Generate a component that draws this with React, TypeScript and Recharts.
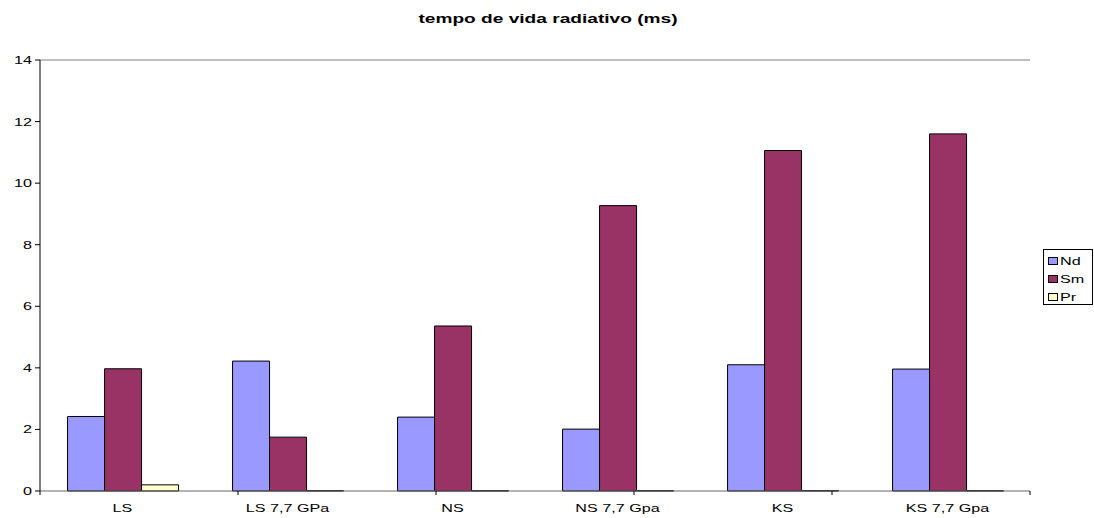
import React from 'react';
import { BarChart, Bar, XAxis, YAxis, ReferenceLine } from 'recharts';

const categories = ['LS', 'LS 7,7 GPa', 'NS', 'NS 7,7 Gpa', 'KS', 'KS 7,7 Gpa'];
const nd = [2.42, 4.22, 2.4, 2.01, 4.1, 3.96];
const sm = [3.97, 1.75, 5.36, 9.27, 11.06, 11.6];
const pr = [0.2, 0.01, 0.01, 0.01, 0.01, 0.01];
const yTicks = [0, 2, 4, 6, 8, 10, 12, 14];
const bandTicks = [0, 1, 2, 3, 4, 5, 6];

const series = [
    { key: 'Nd', color: '#9999FF' },
    { key: 'Sm', color: '#993366' },
    { key: 'Pr', color: '#FFFFCC' },
];

const data = categories.map((name, i) => ({ name, Nd: nd[i], Sm: sm[i], Pr: pr[i] }));

const font = '"Liberation Sans", Arial, sans-serif';
// the original text is stretched sideways
const STRETCH = 1.47;

const XTick = (props: any) => {
    const { x, y, payload } = props;
    return (
        <text
            x={0}
            y={0}
            transform={`translate(${x},${y + 12}) scale(${STRETCH},1)`}
            textAnchor="middle"
            fontSize={11}
            fontFamily={font}
            fill="#000"
        >
            {payload.value}
        </text>
    );
};

const YTick = (props: any) => {
    const { x, y, payload } = props;
    return (
        <text
            x={0}
            y={0}
            transform={`translate(${x},${y + 4}) scale(${STRETCH},1)`}
            textAnchor="end"
            fontSize={11}
            fontFamily={font}
            fill="#000"
        >
            {payload.value}
        </text>
    );
};

const Legend = () => (
    <div
        style={{
            position: 'absolute',
            left: 1043,
            top: 249,
            width: 50,
            height: 56,
            border: '1px solid #000',
            boxSizing: 'border-box',
            padding: '2px 0 0 4px',
            fontFamily: font,
            fontSize: 11,
            lineHeight: '18px',
        }}
    >
        {series.map((s) => (
            <div key={s.key} style={{ display: 'flex', alignItems: 'center' }}>
                <span
                    style={{
                        display: 'inline-block',
                        width: 8,
                        height: 6,
                        background: s.color,
                        border: '1px solid #000',
                        marginRight: 2,
                    }}
                />
                <span style={{ display: 'inline-block', transform: `scaleX(${STRETCH})`, transformOrigin: 'left' }}>
                    {s.key}
                </span>
            </div>
        ))}
    </div>
);

const App = () => {
    return (
        <div style={{ position: 'absolute', left: 0, top: 0, width: 1094, height: 518, background: '#fff' }}>
            <div
                style={{
                    position: 'absolute',
                    left: 0,
                    width: 1096,
                    top: 11,
                    textAlign: 'center',
                    fontFamily: font,
                    fontWeight: 'bold',
                    fontSize: 13,
                    transform: `scaleX(${STRETCH})`,
                    transformOrigin: '548px 0',
                }}
            >
                tempo de vida radiativo (ms)
            </div>
            <BarChart
                width={1094}
                height={518}
                data={data}
                margin={{ top: 60, right: 64, bottom: 7, left: 0 }}
                barCategoryGap="16.7%"
                barGap={0}
            >
                {/* tick marks between the categories */}
                <XAxis
                    xAxisId={0}
                    type="number"
                    domain={[0, 6]}
                    ticks={bandTicks}
                    height={1}
                    axisLine={false}
                    tickLine={{ stroke: '#000' }}
                    tickSize={4}
                    tickFormatter={() => ''}
                />
                <XAxis
                    xAxisId={1}
                    dataKey="name"
                    height={19}
                    axisLine={false}
                    tickLine={false}
                    tick={<XTick />}
                    interval={0}
                />
                <YAxis
                    width={40}
                    domain={[0, 14]}
                    ticks={yTicks}
                    axisLine={{ stroke: '#000' }}
                    tickLine={{ stroke: '#000' }}
                    tickSize={5}
                    tick={<YTick />}
                    tickMargin={3}
                />
                <ReferenceLine y={14} xAxisId={0} stroke="#808080" />
                <ReferenceLine y={0} xAxisId={0} stroke="#666" />
                <ReferenceLine xAxisId={0} x={6} stroke="#808080" />
                {series.map((s) => (
                    <Bar
                        key={s.key}
                        xAxisId={1}
                        dataKey={s.key}
                        fill={s.color}
                        stroke="#000"
                        strokeWidth={1}
                        isAnimationActive={false}
                    />
                ))}
            </BarChart>
            <Legend />
        </div>
    );
};

export default App;
